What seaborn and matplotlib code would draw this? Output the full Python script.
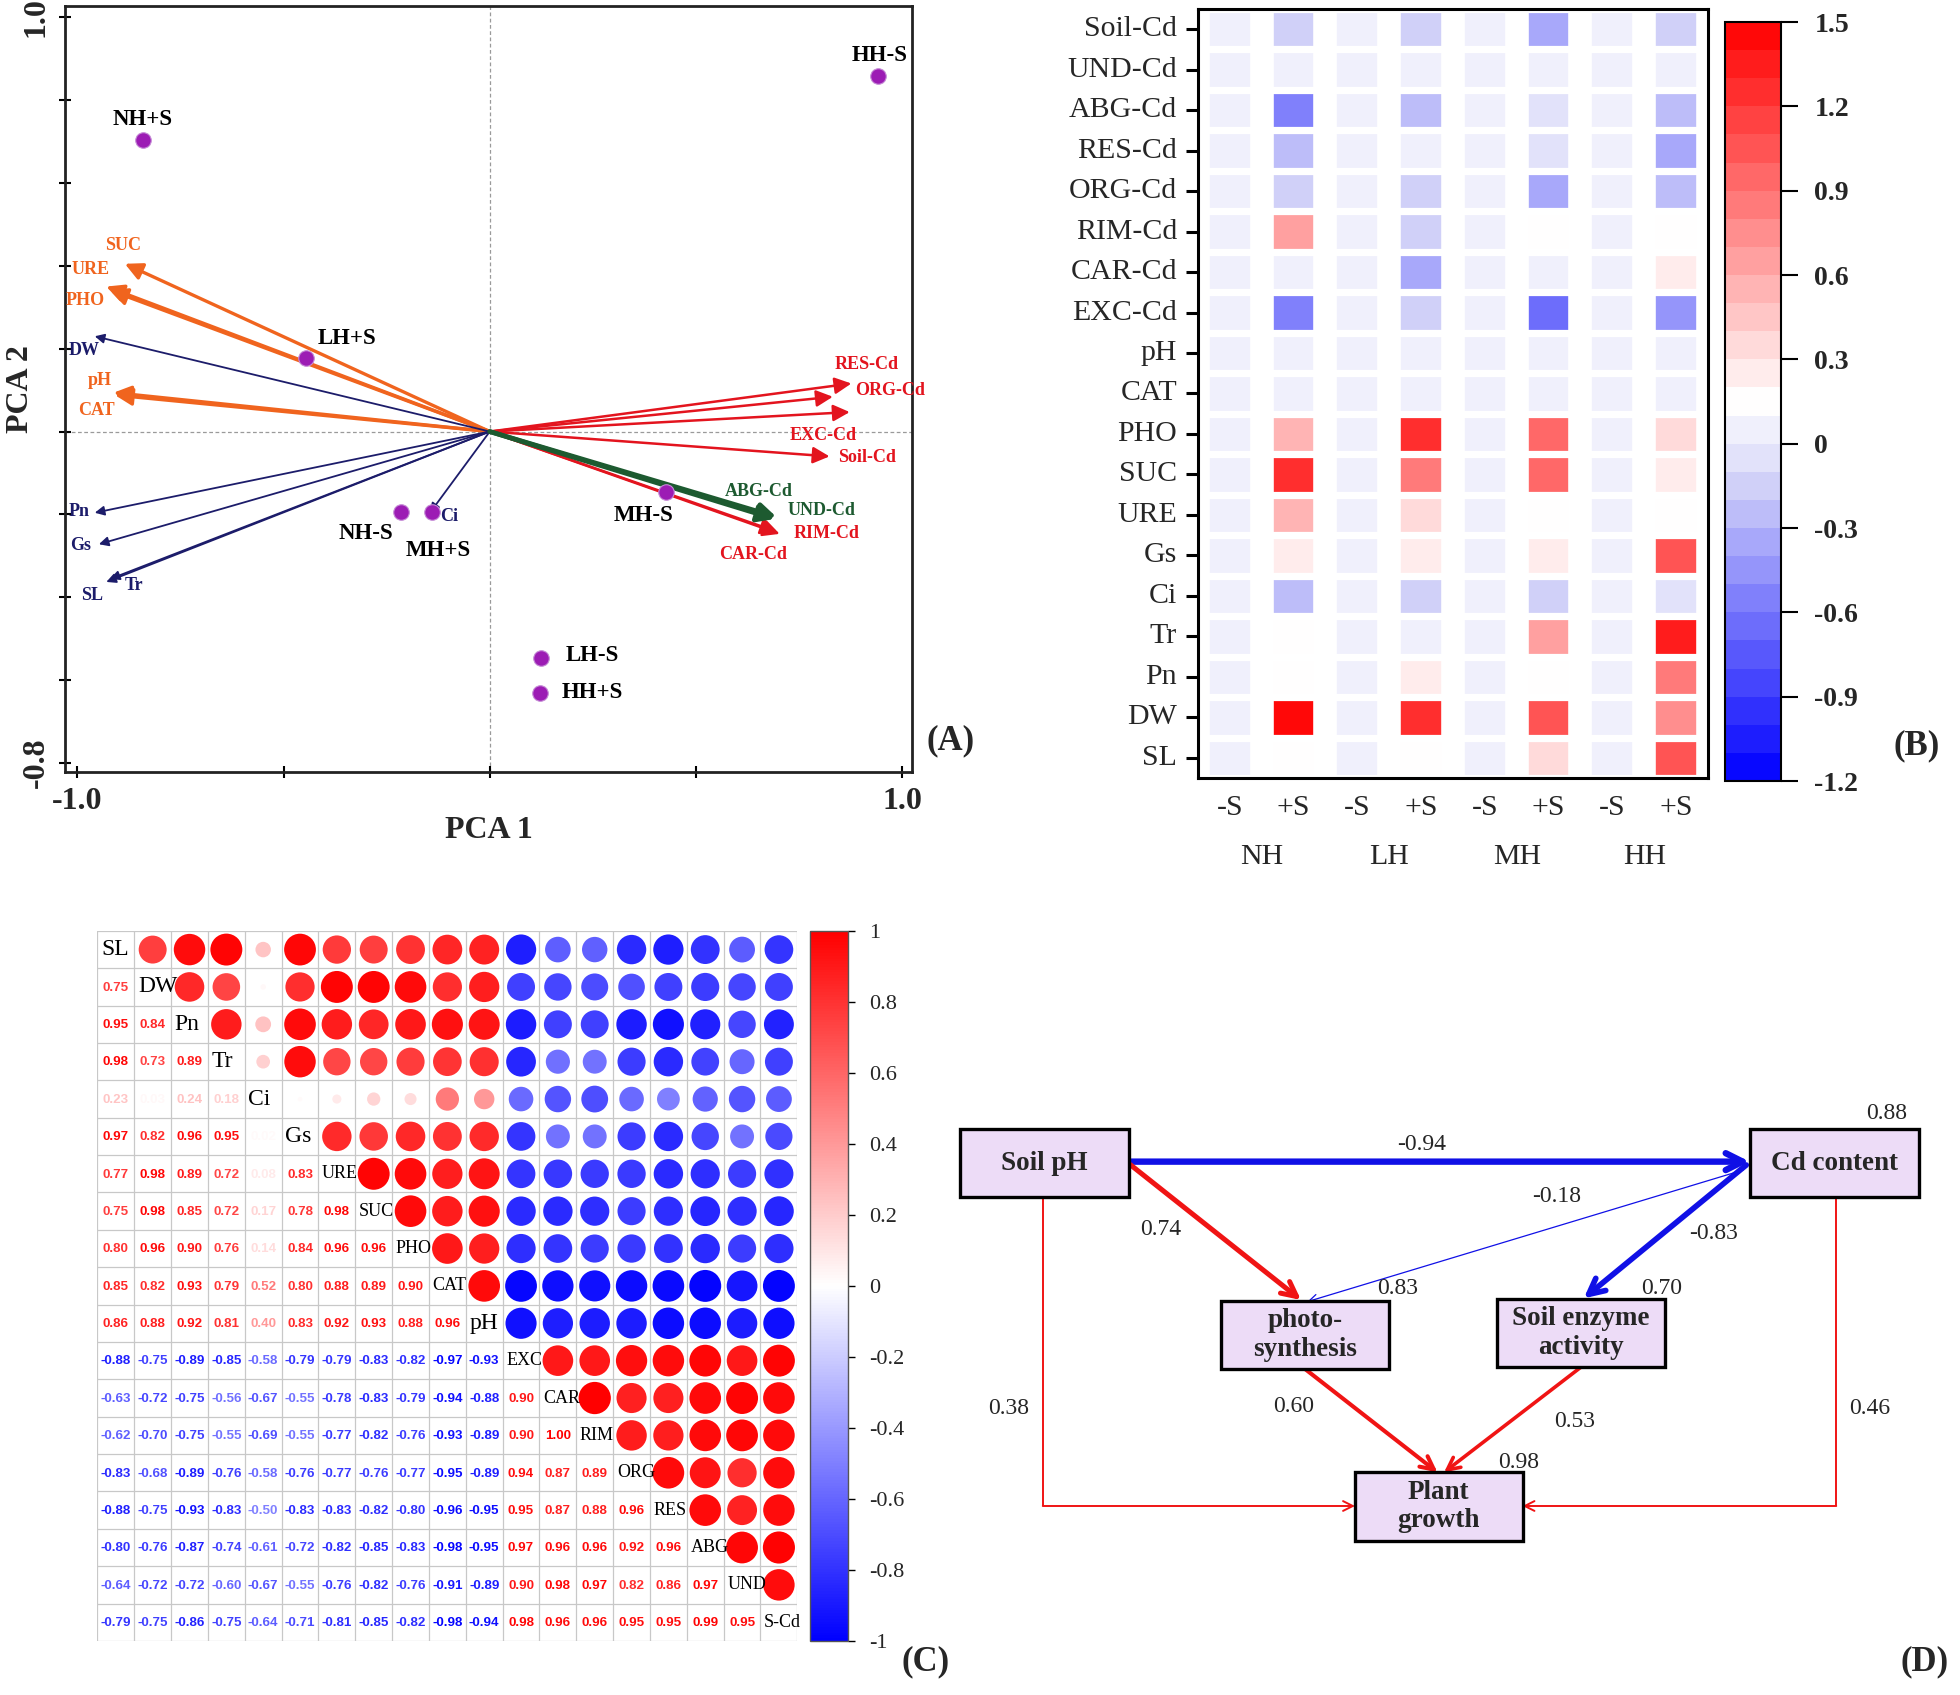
import matplotlib
matplotlib.use('Agg')
import numpy as np
import pandas as pd
import seaborn as sns
import matplotlib.pyplot as plt
import matplotlib.transforms as mtrans
from matplotlib.colors import LinearSegmentedColormap, ListedColormap, Normalize
from matplotlib.patches import Rectangle

# ---------------- (A) PCA biplot ----------------
pca_sites = ['NH+S', 'HH-S', 'LH+S', 'NH-S', 'MH+S', 'MH-S', 'LH-S', 'HH+S']
pca_site_x = [-0.842, 0.942, -0.445, -0.215, -0.139, 0.427, 0.124, 0.121]
pca_site_y = [0.704, 0.858, 0.178, -0.193, -0.193, -0.145, -0.547, -0.631]

pca_vars = ['SUC', 'URE', 'PHO', 'pH', 'CAT',
            'DW', 'Pn', 'Gs', 'SL', 'Tr', 'Ci',
            'RES-Cd', 'ORG-Cd', 'EXC-Cd', 'Soil-Cd', 'RIM-Cd', 'CAR-Cd',
            'ABG-Cd', 'UND-Cd']
pca_var_x = [-0.885, -0.930, -0.921, -0.912, -0.909,
             -0.958, -0.958, -0.948, -0.930, -0.921, -0.145,
             0.832, 0.877, 0.873, 0.824, 0.703, 0.697,
             0.695, 0.691]
pca_var_y = [0.405, 0.350, 0.341, 0.094, 0.088,
             0.230, -0.196, -0.272, -0.363, -0.356, -0.196,
             0.084, 0.116, 0.047, -0.060, -0.247, -0.242,
             -0.206, -0.211]
pca_var_group = ['soil'] * 5 + ['plant'] * 6 + ['cd'] * 6 + ['organ'] * 2

# ---------------- (B) heatmap ----------------
heat_rows = ['Soil-Cd', 'UND-Cd', 'ABG-Cd', 'RES-Cd', 'ORG-Cd', 'RIM-Cd', 'CAR-Cd',
             'EXC-Cd', 'pH', 'CAT', 'PHO', 'SUC', 'URE', 'Gs', 'Ci', 'Tr', 'Pn',
             'DW', 'SL']
heat_cols = ['NH -S', 'NH +S', 'LH -S', 'LH +S', 'MH -S', 'MH +S', 'HH -S', 'HH +S']
heat_vals = [
    [0.05, -0.10, 0.05, -0.10, 0.05, -0.35, 0.05, -0.10],
    [0.05, 0.05, 0.05, 0.05, 0.05, 0.05, 0.05, 0.05],
    [0.05, -0.55, 0.08, -0.25, 0.05, -0.08, 0.05, -0.25],
    [0.05, -0.25, 0.05, 0.08, 0.05, -0.08, 0.05, -0.40],
    [0.05, -0.10, 0.05, -0.10, 0.08, -0.40, 0.05, -0.25],
    [0.05, 0.70, 0.05, -0.10, 0.05, 0.15, 0.05, 0.15],
    [0.05, 0.05, 0.05, -0.35, 0.05, 0.05, 0.05, 0.22],
    [0.05, -0.60, 0.08, -0.10, 0.05, -0.70, 0.05, -0.45],
    [0.05, 0.05, 0.05, 0.05, 0.05, 0.05, 0.05, 0.05],
    [0.05, 0.05, 0.05, 0.05, 0.05, 0.05, 0.05, 0.05],
    [0.05, 0.55, 0.05, 1.30, 0.05, 0.90, 0.05, 0.35],
    [0.05, 1.20, 0.05, 0.85, 0.05, 0.90, 0.05, 0.25],
    [0.05, 0.60, 0.05, 0.35, 0.05, 0.15, 0.05, 0.15],
    [0.05, 0.22, 0.05, 0.22, 0.05, 0.22, 0.05, 1.00],
    [0.05, -0.25, 0.05, -0.10, 0.08, -0.10, 0.05, -0.08],
    [0.05, 0.15, 0.05, 0.05, 0.05, 0.70, 0.05, 1.35],
    [0.05, 0.15, 0.05, 0.22, 0.05, 0.15, 0.05, 0.80],
    [0.05, 1.45, 0.05, 1.30, 0.05, 1.00, 0.05, 0.75],
    [0.05, 0.15, 0.05, 0.15, 0.05, 0.35, 0.05, 1.05],
]
heat_groups = ['NH', 'LH', 'MH', 'HH']

# ---------------- (C) correlation matrix (lower triangle) ----------------
corr_vars = ['SL', 'DW', 'Pn', 'Tr', 'Ci', 'Gs', 'URE', 'SUC', 'PHO', 'CAT', 'pH',
             'EXC', 'CAR', 'RIM', 'ORG', 'RES', 'ABG', 'UND', 'S-Cd']
corr_lower = [
    [],
    [0.75],
    [0.95, 0.84],
    [0.98, 0.73, 0.89],
    [0.23, 0.03, 0.24, 0.18],
    [0.97, 0.82, 0.96, 0.95, 0.02],
    [0.77, 0.98, 0.89, 0.72, 0.08, 0.83],
    [0.75, 0.98, 0.85, 0.72, 0.17, 0.78, 0.98],
    [0.80, 0.96, 0.90, 0.76, 0.14, 0.84, 0.96, 0.96],
    [0.85, 0.82, 0.93, 0.79, 0.52, 0.80, 0.88, 0.89, 0.90],
    [0.86, 0.88, 0.92, 0.81, 0.40, 0.83, 0.92, 0.93, 0.88, 0.96],
    [-0.88, -0.75, -0.89, -0.85, -0.58, -0.79, -0.79, -0.83, -0.82, -0.97, -0.93],
    [-0.63, -0.72, -0.75, -0.56, -0.67, -0.55, -0.78, -0.83, -0.79, -0.94, -0.88, 0.90],
    [-0.62, -0.70, -0.75, -0.55, -0.69, -0.55, -0.77, -0.82, -0.76, -0.93, -0.89, 0.90, 1.00],
    [-0.83, -0.68, -0.89, -0.76, -0.58, -0.76, -0.77, -0.76, -0.77, -0.95, -0.89, 0.94, 0.87, 0.89],
    [-0.88, -0.75, -0.93, -0.83, -0.50, -0.83, -0.83, -0.82, -0.80, -0.96, -0.95, 0.95, 0.87, 0.88, 0.96],
    [-0.80, -0.76, -0.87, -0.74, -0.61, -0.72, -0.82, -0.85, -0.83, -0.98, -0.95, 0.97, 0.96, 0.96, 0.92, 0.96],
    [-0.64, -0.72, -0.72, -0.60, -0.67, -0.55, -0.76, -0.82, -0.76, -0.91, -0.89, 0.90, 0.98, 0.97, 0.82, 0.86, 0.97],
    [-0.79, -0.75, -0.86, -0.75, -0.64, -0.71, -0.81, -0.85, -0.82, -0.98, -0.94, 0.98, 0.96, 0.96, 0.95, 0.95, 0.99, 0.95],
]

# ---------------- (D) path model ----------------
sem_nodes = ['pH', 'Cd', 'photo', 'enzyme', 'plant']
sem_names = ['Soil pH', 'Cd content', 'photo-\nsynthesis', 'Soil enzyme\nactivity', 'Plant\ngrowth']
sem_r2 = {'Cd': 0.88, 'photo': 0.83, 'enzyme': 0.70, 'plant': 0.98}
sem_from = ['pH', 'pH', 'Cd', 'Cd', 'photo', 'enzyme', 'pH', 'Cd']
sem_to = ['Cd', 'photo', 'photo', 'enzyme', 'plant', 'plant', 'plant', 'plant']
sem_coef = [-0.94, 0.74, -0.18, -0.83, 0.60, 0.53, 0.38, 0.46]

# ======================================================================
sns.set_theme(style='white')
plt.rcParams['font.family'] = ['Liberation Serif', 'DejaVu Serif']
plt.rcParams['axes.unicode_minus'] = False

fig = plt.figure(figsize=(19.6, 16.95), dpi=100)

# ---------------- panel A ----------------
axA = fig.add_axes([0.0332, 0.5445, 0.4321, 0.4519])
axA.axhline(0, color='#9a9a9a', lw=0.9, ls=(0, (3, 2)), zorder=0)
axA.axvline(0, color='#9a9a9a', lw=0.9, ls=(0, (3, 2)), zorder=0)

grp_style = {
    'soil': dict(color='#f0641e', lw=2.4, ms=26),
    'plant': dict(color='#1c1c6a', lw=1.3, ms=14),
    'cd': dict(color='#e3141e', lw=1.8, ms=25),
    'organ': dict(color='#1d5a30', lw=3.4, ms=25),
}
var_off = {'SUC': (-1, 13), 'URE': (-11, 12), 'PHO': (-18, -7), 'pH': (-10, 9),
           'CAT': (-13, -11), 'DW': (-8, -10), 'Pn': (-11, 1), 'Gs': (-13, -1),
           'SL': (-10, -10), 'Tr': (17, -5), 'Ci': (14, -3),
           'RES-Cd': (24, 23), 'ORG-Cd': (28, -5), 'EXC-Cd': (-19, -17),
           'Soil-Cd': (27, -1), 'RIM-Cd': (34, 0), 'CAR-Cd': (-17, -16),
           'ABG-Cd': (-13, 18), 'UND-Cd': (34, 6)}
for name, vx, vy, g in zip(pca_vars, pca_var_x, pca_var_y, pca_var_group):
    st = grp_style[g]
    axA.annotate('', xy=(vx, vy), xytext=(0, 0),
                 arrowprops=dict(arrowstyle='-|>', color=st['color'], lw=st['lw'],
                                 mutation_scale=st['ms'], shrinkA=0, shrinkB=0))
    dx, dy = var_off[name]
    axA.annotate(name, xy=(vx, vy), xytext=(dx, dy), textcoords='offset points',
                 ha='center', va='center', fontsize=13, fontweight='bold',
                 color=st['color'])

sites = pd.DataFrame({'site': pca_sites, 'x': pca_site_x, 'y': pca_site_y})
sns.scatterplot(data=sites, x='x', y='y', ax=axA, color='#9c1cb4', s=125,
                edgecolor='#c58ad6', linewidth=0.8, zorder=5, legend=False)
site_off = {'NH+S': (0, 15), 'HH-S': (1, 15), 'LH+S': (29, 14), 'NH-S': (-25, -16),
            'MH+S': (4, -28), 'MH-S': (-16, -17), 'LH-S': (37, 2), 'HH+S': (38, 0)}
for _, r in sites.iterrows():
    dx, dy = site_off[r['site']]
    axA.annotate(r['site'], xy=(r['x'], r['y']), xytext=(dx, dy),
                 textcoords='offset points', ha='center', va='center',
                 fontsize=16.5, fontweight='bold', color='black')

axA.set_xlim(-1.03, 1.024)
axA.set_ylim(-0.822, 1.027)
axA.set_xticks([-1.0, -0.5, 0, 0.5, 1.0])
axA.set_xticklabels(['-1.0', '', '', '', '1.0'], fontsize=23, fontweight='bold')
axA.set_yticks(np.round(np.arange(-0.8, 1.01, 0.2), 1))
ylabs = [''] * 10
ylabs[0], ylabs[-1] = '-0.8', '1.0'
axA.set_yticklabels(ylabs, fontsize=23, fontweight='bold', rotation=90, va='center')
axA.tick_params(axis='both', direction='inout', length=9, width=1.5, color='black',
                left=True, bottom=True, pad=6)
axA.set_xlabel('PCA 1', fontsize=23, fontweight='bold', labelpad=0)
axA.set_ylabel('PCA 2', fontsize=23, fontweight='bold')
axA.yaxis.set_label_coords(-0.036, 0.5)
for s in axA.spines.values():
    s.set_color('#222222')
    s.set_linewidth(2)

# ---------------- panel B ----------------
axB = fig.add_axes([0.6112, 0.541, 0.2602, 0.4537])
caxB = fig.add_axes([0.8801, 0.5392, 0.0286, 0.4478])
base_b = LinearSegmentedColormap.from_list(
    'bwr_b', [(0, '#0000ff'), (1.1 / 2.7, '#dadaf8'), (1.35 / 2.7, '#ffffff'), (1, '#ff0000')])
cmap_b = ListedColormap(base_b((np.arange(27) + 0.5) / 27))
heat = pd.DataFrame(heat_vals, index=heat_rows, columns=heat_cols)
sns.heatmap(heat, ax=axB, cmap=cmap_b, vmin=-1.2, vmax=1.5, cbar_ax=caxB,
            xticklabels=[c.split()[1] for c in heat_cols], yticklabels=True)
for k in range(len(heat_cols) + 1):
    axB.axvline(k, color='white', lw=17)
for k in range(len(heat_rows) + 1):
    axB.axhline(k, color='white', lw=5.2)
for s in axB.spines.values():
    s.set_visible(True)
    s.set_color('black')
    s.set_linewidth(2.2)
axB.tick_params(axis='y', left=True, length=9, width=2.2, color='black',
                direction='out', labelsize=21.5, pad=6)
axB.tick_params(axis='x', bottom=False, length=0, labelsize=21.5, pad=12)
plt.setp(axB.get_yticklabels(), rotation=0)
plt.setp(axB.get_xticklabels(), rotation=0)
bt = mtrans.blended_transform_factory(axB.transData, axB.transAxes)
for k, g in enumerate(heat_groups):
    axB.text(2 * k + 1, -0.103, g, transform=bt, ha='center', va='center', fontsize=21.5)
cbB = axB.collections[0].colorbar
b_ticks = np.round(np.arange(-1.2, 1.51, 0.3), 1)
cbB.set_ticks(b_ticks)
cbB.set_ticklabels([f'{t + 0.0:g}' for t in b_ticks])
caxB.tick_params(labelsize=20, length=12, width=1.5, color='black', right=True, pad=12)
for lab in caxB.get_yticklabels():
    lab.set_fontweight('bold')
cbB.outline.set_edgecolor('black')
cbB.outline.set_linewidth(1.5)

# ---------------- panel C ----------------
n = len(corr_vars)
corr = np.eye(n)
for i, row in enumerate(corr_lower):
    for j, v in enumerate(row):
        corr[i, j] = v
        corr[j, i] = v
cmap_c = LinearSegmentedColormap.from_list('bwr_c', ['#0000ff', '#ffffff', '#ff0000'])
norm_c = Normalize(-1, 1)

axC = fig.add_axes([0.0497, 0.0319, 0.3571, 0.4189])
for k in range(n + 1):
    axC.axhline(k, color='#c8c8c8', lw=0.9, zorder=0)
    axC.axvline(k, color='#c8c8c8', lw=0.9, zorder=0)
up = pd.DataFrame([(j + 0.5, i + 0.5, corr[i, j]) for i in range(n) for j in range(n) if j > i],
                  columns=['x', 'y', 'r'])
up['a'] = up['r'].abs()
sns.scatterplot(data=up, x='x', y='y', hue='r', size='a', palette=cmap_c, hue_norm=(-1, 1),
                sizes=(0, 540), size_norm=(0, 1), linewidth=0, legend=False, ax=axC, zorder=3)
for i in range(n):
    for j in range(i):
        v = corr[i, j]
        axC.text(j + 0.5, i + 0.52, f'{v:.2f}', color=cmap_c(norm_c(v)), ha='center',
                 va='center', fontsize=9.6, fontweight='bold', family='Liberation Sans')
for i, lab in enumerate(corr_vars):
    axC.text(i + 0.1, i + 0.5, lab, ha='left', va='center', color='black',
             fontsize=17 if len(lab) <= 2 else 13, zorder=4)
axC.set_xlim(0, n)
axC.set_ylim(n, 0)
axC.set(xlabel='', ylabel='', xticks=[], yticks=[])
for s in axC.spines.values():
    s.set_visible(False)

caxC = fig.add_axes([0.4133, 0.0319, 0.0194, 0.4189])
cbC = fig.colorbar(plt.cm.ScalarMappable(norm=norm_c, cmap=cmap_c), cax=caxC)
c_ticks = np.round(np.arange(-1, 1.01, 0.2), 1)
cbC.set_ticks(c_ticks)
cbC.set_ticklabels([f'{t + 0.0:g}' for t in c_ticks])
caxC.tick_params(labelsize=16, length=5, width=1, color='black', right=True, pad=10)
cbC.outline.set_edgecolor('#555555')
cbC.outline.set_linewidth(1)

# ---------------- panel D ----------------
axD = fig.add_axes([0.4847, 0.0708, 0.5153, 0.2876])
axD.set_xlim(760, 1568)
axD.set_ylim(1260, 870)
axD.axis('off')
box = {'pH': (767.6, 903.5, 135.3, 54.4), 'Cd': (1399.8, 903.5, 135.2, 54.4),
       'photo': (976.8, 1040.5, 134.2, 54.4), 'enzyme': (1197.9, 1039.2, 134.1, 54.7),
       'plant': (1084.0, 1177.9, 134.0, 54.6)}
for key, name in zip(sem_nodes, sem_names):
    x0, y0, w, h = box[key]
    axD.add_patch(Rectangle((x0, y0), w, h, facecolor='#eddcf7', edgecolor='black',
                            lw=2.4, zorder=3))
    axD.text(x0 + w / 2, y0 + h / 2, name, ha='center', va='center', fontsize=19.5,
             fontweight='bold', linespacing=1.2, zorder=4)
r2_pos = {'Cd': (1509, 890.7), 'photo': (1117.8, 1030.7), 'enzyme': (1329.5, 1030.7),
          'plant': (1215, 1170)}
for key, v in sem_r2.items():
    axD.text(*r2_pos[key], f'{v:.2f}', ha='center', va='center', fontsize=17)

seg = {('pH', 'Cd'): [(902.9, 929.3), (1399.8, 929.3)],
       ('pH', 'photo'): [(902.9, 930.7), (1040.8, 1040)],
       ('Cd', 'photo'): [(1394.6, 936), (1046, 1041.3)],
       ('Cd', 'enzyme'): [(1397, 932), (1267, 1038.7)],
       ('photo', 'plant'): [(1043.4, 1094.7), (1150, 1177.9)],
       ('enzyme', 'plant'): [(1264.5, 1093.9), (1155.2, 1177.9)],
       ('pH', 'plant'): [(834.2, 957.9), (834.2, 1204.8), (1084, 1204.8)],
       ('Cd', 'plant'): [(1469, 957.9), (1469, 1204.8), (1218, 1204.8)]}
lab_pos = {('pH', 'Cd'): (1137, 915.2), ('pH', 'photo'): (928.9, 983.5),
           ('Cd', 'photo'): (1245.2, 957.3), ('Cd', 'enzyme'): (1371, 986.7),
           ('photo', 'plant'): (1034.5, 1125.3), ('enzyme', 'plant'): (1259.3, 1137.3),
           ('pH', 'plant'): (806.6, 1126.7), ('Cd', 'plant'): (1496, 1126.7)}
for a, b, c in zip(sem_from, sem_to, sem_coef):
    pts = seg[(a, b)]
    col = '#f01414' if c > 0 else '#1010e6'
    lw = 1.4 if len(pts) > 2 else max(0.9, 4.9 * abs(c))
    if len(pts) > 2:
        xs, ys = zip(*pts[:-1])
        axD.plot(xs, ys, color=col, lw=lw, solid_capstyle='butt', zorder=2)
    axD.annotate('', xy=pts[-1], xytext=pts[-2],
                 arrowprops=dict(arrowstyle='->', color=col, lw=lw,
                                 mutation_scale=12 + 4 * lw, shrinkA=0, shrinkB=0),
                 zorder=2)
    axD.text(*lab_pos[(a, b)], f'{c:.2f}', ha='center', va='center', fontsize=17)

# ---------------- panel letters ----------------
for txt, x, y in [('(A)', 0.485, 0.563), ('(B)', 0.978, 0.560),
                  ('(C)', 0.472, 0.0195), ('(D)', 0.982, 0.0195)]:
    fig.text(x, y, txt, ha='center', va='center', fontsize=25, fontweight='bold')

fig.savefig('out.png', dpi=100)
